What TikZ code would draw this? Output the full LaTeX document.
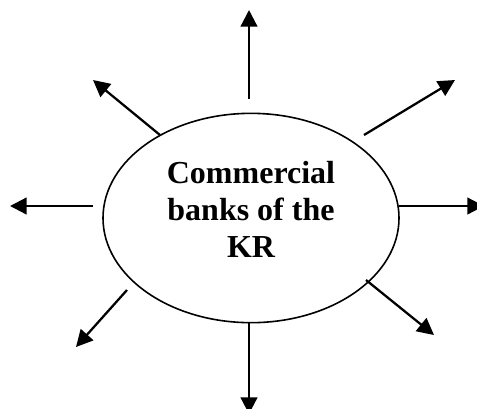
\documentclass[tikz,border=0pt]{standalone}
\usepackage{fontspec}
\setmainfont{Liberation Serif}
\usetikzlibrary{arrows.meta, shapes.geometric}

\begin{document}
\begin{tikzpicture}[x=0.75pt, y=-0.75pt,
    >={Triangle[length=12.5pt, width=12.5pt]},
    bankbox/.style={ellipse, draw, line width=1.2pt, minimum width=222pt,
        minimum height=157pt, inner sep=0pt, align=center, text depth=13pt,
        font=\bfseries\fontsize{24}{27.75}\selectfont},
    ray/.style={->, line width=1.7pt}]
        \useasboundingbox (0,0) rectangle (477,408);
        \node[bankbox] (bank) at (251,218) {Commercial\\banks of the\\KR};

        % arrow starts (0) and tips (1)
        \coordinate (n0)  at (249,99);   \coordinate (n1)  at (249,10);
        \coordinate (ne0) at (364,135);  \coordinate (ne1) at (455,80);
        \coordinate (e0)  at (399,206);  \coordinate (e1)  at (484,206);
        \coordinate (se0) at (366,280);  \coordinate (se1) at (434,335);
        \coordinate (s0)  at (249,322);  \coordinate (s1)  at (249,414);
        \coordinate (sw0) at (127,290);  \coordinate (sw1) at (76,347);
        \coordinate (w0)  at (93,206);   \coordinate (w1)  at (10,206);
        \coordinate (nw0) at (160,135);  \coordinate (nw1) at (93,80);

        \foreach \d in {n,ne,e,se,s,sw,w,nw}
            \draw[ray] (\d0) -- (\d1);
    \end{tikzpicture}
\end{document}
